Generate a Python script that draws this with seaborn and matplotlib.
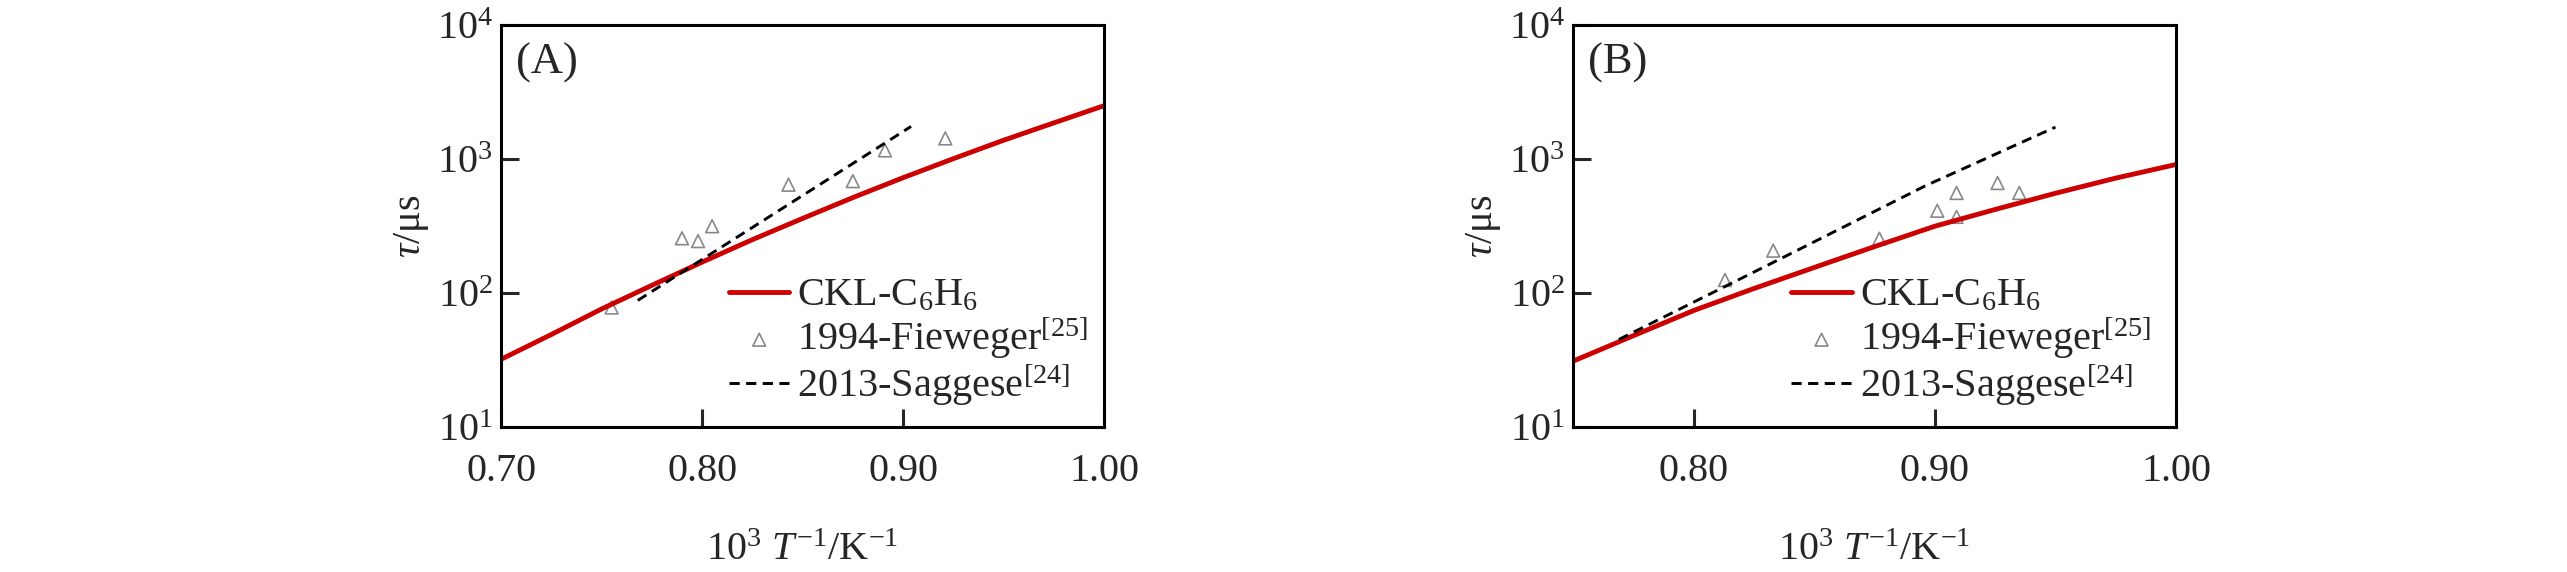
import numpy as np
import seaborn as sns
import matplotlib
matplotlib.use('Agg')
from matplotlib import pyplot as plt

# panel A
a_model_x = [0.70, 0.725, 0.75, 0.775, 0.80, 0.825, 0.85, 0.875, 0.90, 0.925, 0.95, 0.975, 1.00]
a_model_y = [32, 49, 76, 114, 170, 250, 360, 515, 725, 1005, 1380, 1860, 2500]
a_fiew_x = [0.755, 0.790, 0.798, 0.805, 0.843, 0.875, 0.891, 0.921]
a_fiew_y = [78, 256, 244, 315, 643, 684, 1160, 1425]
a_sagg_x = [0.768, 0.904]
a_sagg_y = [88, 1750]

# panel B
b_model_x = [0.75, 0.775, 0.80, 0.825, 0.85, 0.875, 0.90, 0.925, 0.95, 0.975, 1.00]
b_model_y = [31, 48, 74, 108, 155, 222, 315, 420, 555, 720, 910]
b_fiew_x = [0.813, 0.833, 0.877, 0.901, 0.909, 0.909, 0.926, 0.935]
b_fiew_y = [125, 207, 254, 411, 558, 370, 662, 558]
b_sagg_x = [0.769, 0.836, 0.896, 0.950]
b_sagg_y = [45, 180, 630, 1730]

labels = [r'CKL-C$_6$H$_6$', r'1994-Fieweger$^{[25]}$', r'2013-Saggese$^{[24]}$']

sns.set_style('ticks')
plt.rcParams['font.family'] = ['Liberation Serif', 'DejaVu Serif']
plt.rcParams['mathtext.fontset'] = 'custom'
plt.rcParams['mathtext.rm'] = 'Liberation Serif'
plt.rcParams['mathtext.it'] = 'Liberation Serif:italic'
plt.rcParams['axes.unicode_minus'] = True

fig = plt.figure(figsize=(25.67, 5.72), dpi=100)

panels = [
    ('(A)', [0.1952, 0.2535, 0.2349, 0.7028], (0.70, 1.00), [0.70, 0.80, 0.90, 1.00],
     a_model_x, a_model_y, a_fiew_x, a_fiew_y, a_sagg_x, a_sagg_y, 0.378),
    ('(B)', [0.6128, 0.2535, 0.2349, 0.7028], (0.75, 1.00), [0.80, 0.90, 1.00],
     b_model_x, b_model_y, b_fiew_x, b_fiew_y, b_sagg_x, b_sagg_y, 0.362),
]

for tag, pos, xlim, xt, mx, my, fx, fy, sx, sy, legx in panels:
    ax = fig.add_axes(pos)
    sns.lineplot(x=mx, y=my, color='#cc0000', lw=3.5, ax=ax, label=labels[0])
    sns.lineplot(x=sx, y=sy, color='black', lw=2.1, linestyle=(0, (3.5, 2.2)), ax=ax, label=labels[2])
    sns.scatterplot(x=fx, y=fy, marker='^', s=85, facecolor='none', edgecolor='#888888',
                    linewidth=1.2, ax=ax, label=labels[1])
    ax.set_yscale('log')
    ax.set_ylim(10, 1e4)
    ax.set_xlim(*xlim)
    ax.set_yticks([10, 100, 1000, 10000])
    ax.minorticks_off()
    ax.set_xticks(xt)
    ax.set_xticklabels(['%.2f' % v for v in xt])
    ax.tick_params(direction='in', length=13, width=2.2, labelsize=29, top=False, right=False)
    ax.tick_params(axis='x', pad=19)
    ax.tick_params(axis='y', pad=6)
    for sp in ax.spines.values():
        sp.set_linewidth(2.2)
        sp.set_color('black')
    ax.set_xlabel(r'10$^3$ $T^{-1}$/K$^{-1}$', fontsize=29, labelpad=30)
    ax.set_ylabel(r'$\tau$/μs', fontsize=29, labelpad=4)
    ax.text(0.025, 0.955, tag, transform=ax.transAxes, fontsize=32, va='top', ha='left')
    h, l = ax.get_legend_handles_labels()
    order = [l.index(t) for t in labels]
    ax.legend([h[i] for i in order], labels, loc='upper left', bbox_to_anchor=(legx, 0.372),
              frameon=False, fontsize=29, handlelength=1.5, handletextpad=0.2,
              labelspacing=0.0, borderaxespad=0, borderpad=0)

fig.savefig('out.png', dpi=100)
